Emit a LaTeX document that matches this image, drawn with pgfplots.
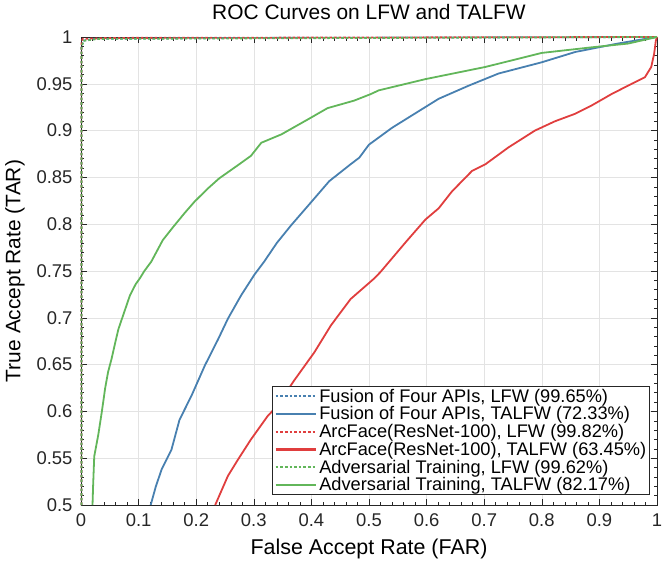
\documentclass[border=0pt]{standalone}
\usepackage{fontspec}
\setmainfont{Liberation Sans}
\usepackage{pgfplots}
\pgfplotsset{compat=1.18}

\definecolor{cblue}{RGB}{72,128,176}
\definecolor{cred}{RGB}{224,62,62}
\definecolor{cgreen}{RGB}{98,182,90}
\definecolor{axgray}{RGB}{38,38,38}

\begin{document}
\begin{tikzpicture}
\begin{axis}[
  scale only axis,
  width=576bp, height=468bp,
  xmin=0, xmax=1, ymin=0.5, ymax=1,
  xtick={0,0.1,...,1.0001},
  ytick={0.5,0.55,...,1.0001},
  xticklabels={0,0.1,0.2,0.3,0.4,0.5,0.6,0.7,0.8,0.9,1},
  yticklabels={0.5,0.55,0.6,0.65,0.7,0.75,0.8,0.85,0.9,0.95,1},
  minor tick num=4,
  tick align=inside,
  major tick length=6bp, minor tick length=3.5bp,
  every tick/.style={axgray, line width=0.5bp},
  axis line style={axgray, line width=0.6bp},
  grid=major,
  major grid style={draw=black!11, line width=0.6bp},
  /pgf/number format/assume math mode=true,
  tick label style={font=\fontsize{18.5}{21}\selectfont, text=axgray},
  xticklabel style={yshift=-5bp},
  yticklabel style={xshift=-5bp},
  title={ROC Curves on LFW and TALFW},
  title style={font=\fontsize{21}{24}\selectfont, at={(axis description cs:0.5,1.040)}, anchor=center},
  xlabel={False Accept Rate (FAR)},
  ylabel={True Accept Rate (TAR)},
  xlabel style={font=\fontsize{21.5}{24}\selectfont, at={(axis description cs:0.5,-0.094)}, anchor=center},
  ylabel style={font=\fontsize{21}{24}\selectfont, at={(axis description cs:-0.1146,0.5)}, anchor=center},
  clip=false,
  legend cell align=left,
  legend style={
    at={(axis description cs:0.9878,0.0214)}, anchor=south east,
    font=\fontsize{18.3}{21}\selectfont,
    draw=axgray, line width=0.5bp, fill=white,
    row sep=0bp, column sep=1bp, inner xsep=2bp, inner ysep=1bp,
    nodes={inner sep=1.5bp},
  },
  legend image code/.code={\draw[#1, line width=2.2bp] (0bp,0bp) -- (40bp,0bp);},
  dotline/.style={line width=1.8bp, dash pattern=on 2.6bp off 2bp},
]
\addplot[cblue, dotline] coordinates {
  (0.001,0.5) (0.001,0.990) (0.004,0.996) (0.02,0.998) (0.3,0.999) (1,1)
};
\addlegendentry{Fusion of Four APIs, LFW (99.65\%)}
\addplot[cblue, line width=1.8bp] coordinates {
  (0.121,0.500) (0.130,0.520) (0.140,0.538) (0.157,0.559) (0.171,0.591)
  (0.192,0.617) (0.215,0.649) (0.238,0.677) (0.255,0.699) (0.278,0.724)
  (0.301,0.746) (0.318,0.760) (0.340,0.780) (0.365,0.799) (0.396,0.821)
  (0.431,0.846) (0.468,0.864) (0.483,0.871) (0.500,0.885) (0.540,0.903)
  (0.587,0.921) (0.621,0.934) (0.673,0.948) (0.725,0.961) (0.800,0.973)
  (0.858,0.984) (0.932,0.993) (0.970,0.997) (1,1)
};
\addlegendentry{Fusion of Four APIs, TALFW (72.33\%)}
\addplot[cred, dotline] coordinates {
  (0.001,0.5) (0.001,0.995) (0.003,0.998) (0.05,0.999) (1,1)
};
\addlegendentry{ArcFace(ResNet-100), LFW (99.82\%)}
\addplot[cred, line width=1.8bp] coordinates {
  (0.233,0.500) (0.255,0.531) (0.272,0.548) (0.295,0.570) (0.324,0.595)
  (0.341,0.606) (0.370,0.633) (0.405,0.663) (0.434,0.692) (0.468,0.720)
  (0.509,0.742) (0.520,0.749) (0.564,0.781) (0.598,0.805) (0.621,0.817)
  (0.644,0.835) (0.679,0.857) (0.702,0.864) (0.742,0.882) (0.788,0.900)
  (0.823,0.910) (0.858,0.918) (0.887,0.927) (0.921,0.939) (0.956,0.950)
  (0.979,0.957) (0.990,0.968) (0.995,0.982) (0.998,0.996) (1,1)
};
\addlegendentry{ArcFace(ResNet-100), TALFW (63.45\%)}
\addplot[cgreen, dotline] coordinates {
  (0.001,0.5) (0.001,0.990) (0.005,0.996) (0.03,0.998) (1,1)
};
\addlegendentry{Adversarial Training, LFW (99.62\%)}
\addplot[cgreen, line width=1.8bp] coordinates {
  (0.020,0.500) (0.021,0.520) (0.023,0.552) (0.030,0.575) (0.036,0.599)
  (0.042,0.625) (0.047,0.642) (0.053,0.656) (0.060,0.675) (0.065,0.688)
  (0.075,0.706) (0.085,0.724) (0.095,0.736) (0.102,0.742) (0.110,0.750)
  (0.122,0.760) (0.142,0.783) (0.160,0.797) (0.180,0.812) (0.197,0.824)
  (0.220,0.838) (0.240,0.849) (0.270,0.862) (0.295,0.873) (0.313,0.887)
  (0.348,0.896) (0.394,0.912) (0.428,0.924) (0.474,0.932) (0.503,0.939)
  (0.517,0.943) (0.598,0.955) (0.702,0.968) (0.800,0.983) (0.887,0.989)
  (0.950,0.993) (1,1)
};
\addlegendentry{Adversarial Training, TALFW (82.17\%)}
\end{axis}
\pgfresetboundingbox
\path[use as bounding box] (-81bp,-56bp) rectangle (583bp,505bp);
\end{tikzpicture}
\end{document}
